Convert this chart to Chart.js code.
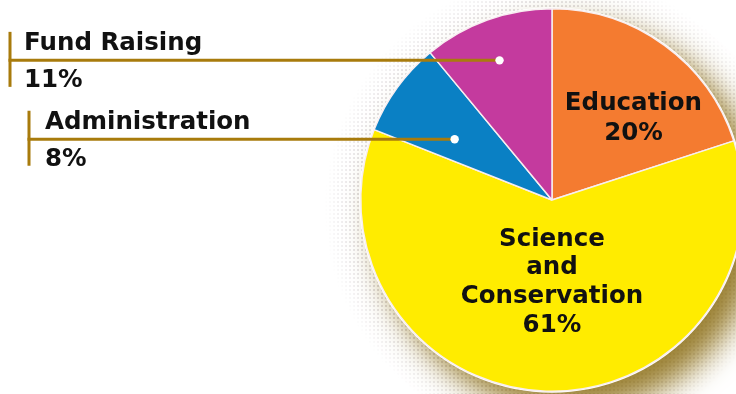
<!DOCTYPE html>
<html>
<head>
<meta charset="utf-8">
<script src="https://cdn.jsdelivr.net/npm/chart.js@4/dist/chart.umd.min.js"></script>
<style>
  html, body { margin: 0; padding: 0; background: #ffffff; overflow: hidden; }
  #wrap { position: relative; width: 760px; height: 394px; }
</style>
</head>
<body>
<div id="wrap"><canvas id="c" width="760" height="394"></canvas></div>
<script>
// ---- data ----
const categories = ["Education", "Science and Conservation", "Administration", "Fund Raising"];
const shares = [20, 61, 8, 11];
const percentLabels = ["20%", "61%", "8%", "11%"];
const insideLines = [["Education", "20%"], ["Science", "and", "Conservation", "61%"], null, null];
const outsideNames = [null, null, "Administration", "Fund Raising"];

// ---- style ----
const colors = ["#F47B30", "#FFEC00", "#0A80C4", "#C43A9E"];
const GOLD = "#A87B0C";
const FONT = "'DejaVu Sans', sans-serif";
const FSIZE = 24.5;
const CAP = 18;

function dotPattern(ctx) {
  const p = document.createElement("canvas");
  p.width = 4; p.height = 4;
  const pc = p.getContext("2d");
  pc.fillStyle = "rgba(170,160,165,0.55)";
  pc.fillRect(1, 1, 2, 2);
  return ctx.createPattern(p, "repeat");
}

const shadowPlugin = {
  id: "shadow",
  beforeDatasetsDraw(chart) {
    const arc = chart.getDatasetMeta(0).data[0];
    if (!arc) return;
    const { x, y, outerRadius } = arc;
    const ctx = chart.ctx;
    ctx.save();
    // halftone halo, fading outward
    const off = document.createElement("canvas");
    off.width = chart.width; off.height = chart.height;
    const oc = off.getContext("2d");
    oc.fillStyle = dotPattern(oc);
    oc.fillRect(0, 0, off.width, off.height);
    oc.globalCompositeOperation = "destination-in";
    const g = oc.createRadialGradient(x + 6, y + 8, outerRadius * 0.95, x + 6, y + 8, outerRadius * 1.22);
    g.addColorStop(0, "rgba(0,0,0,1)");
    g.addColorStop(1, "rgba(0,0,0,0)");
    oc.fillStyle = g;
    oc.fillRect(0, 0, off.width, off.height);
    ctx.drawImage(off, 0, 0);
    // drop shadow
    ctx.shadowColor = "rgba(150,122,40,0.95)";
    ctx.shadowBlur = 30;
    ctx.shadowOffsetX = 18;
    ctx.shadowOffsetY = 18;
    ctx.fillStyle = "#ffffff";
    ctx.beginPath();
    ctx.arc(x, y, outerRadius + 1.5, 0, Math.PI * 2);
    ctx.fill();
    ctx.restore();
  }
};

const labelPlugin = {
  id: "labels",
  afterDatasetsDraw(chart) {
    const ctx = chart.ctx;
    const meta = chart.getDatasetMeta(0);
    ctx.save();
    ctx.fillStyle = "#111111";
    ctx.textAlign = "center";
    ctx.textBaseline = "alphabetic";
    ctx.font = "bold " + FSIZE + "px " + FONT;
    // inside labels: [angle fraction within slice, radius fraction, line height]
    const insidePos = { 0: [0.615, 0.61, 30], 1: [0.492, 0.417, 28.7] };
    meta.data.forEach((arc, i) => {
      const lines = insideLines[i];
      if (!lines) return;
      const [af, rf, lh] = insidePos[i];
      const a = arc.startAngle + (arc.endAngle - arc.startAngle) * af;
      const r = arc.outerRadius * rf;
      const cx = arc.x + Math.cos(a) * r;
      const cy = arc.y + Math.sin(a) * r;
      lines.forEach((t, k) => {
        ctx.fillText(t, cx, cy + CAP / 2 + (k - (lines.length - 1) / 2) * lh);
      });
    });
    // outside (leader) labels
    const leader = { 3: { af: 0.48, rf: 0.78, barX: 10, textX: 24 },
                     2: { af: 0.36, rf: 0.60, barX: 29, textX: 45 } };
    Object.keys(leader).forEach(key => {
      const i = +key;
      const arc = meta.data[i];
      const L = leader[i];
      const a = arc.startAngle + (arc.endAngle - arc.startAngle) * L.af;
      const r = arc.outerRadius * L.rf;
      const dx = arc.x + Math.cos(a) * r;
      const dy = arc.y + Math.sin(a) * r;
      ctx.strokeStyle = GOLD;
      ctx.lineWidth = 3;
      ctx.beginPath();
      ctx.moveTo(L.barX - 1.5, dy);
      ctx.lineTo(dx, dy);
      ctx.stroke();
      ctx.fillStyle = GOLD;
      ctx.fillRect(L.barX - 1.5, dy - 28.5, 3, 55);
      ctx.fillStyle = "#ffffff";
      ctx.beginPath();
      ctx.arc(dx, dy, 4.2, 0, Math.PI * 2);
      ctx.fill();
      ctx.fillStyle = "#111111";
      ctx.textAlign = "left";
      ctx.textBaseline = "alphabetic";
      ctx.font = "bold " + FSIZE + "px " + FONT;
      ctx.fillText(outsideNames[i], L.textX, dy - 10.5);
      ctx.fillText(percentLabels[i], L.textX, dy + 27);
    });
    ctx.restore();
  }
};

new Chart(document.getElementById("c"), {
  type: "pie",
  data: {
    labels: categories,
    datasets: [{
      data: shares,
      backgroundColor: colors,
      borderColor: "#f8eef0",
      borderWidth: 1.5
    }]
  },
  options: {
    responsive: false,
    animation: false,
    layout: { padding: { left: 360, right: 16, top: 8, bottom: 2 } },
    plugins: { legend: { display: false }, tooltip: { enabled: false } }
  },
  plugins: [shadowPlugin, labelPlugin]
});
</script>
</body>
</html>
